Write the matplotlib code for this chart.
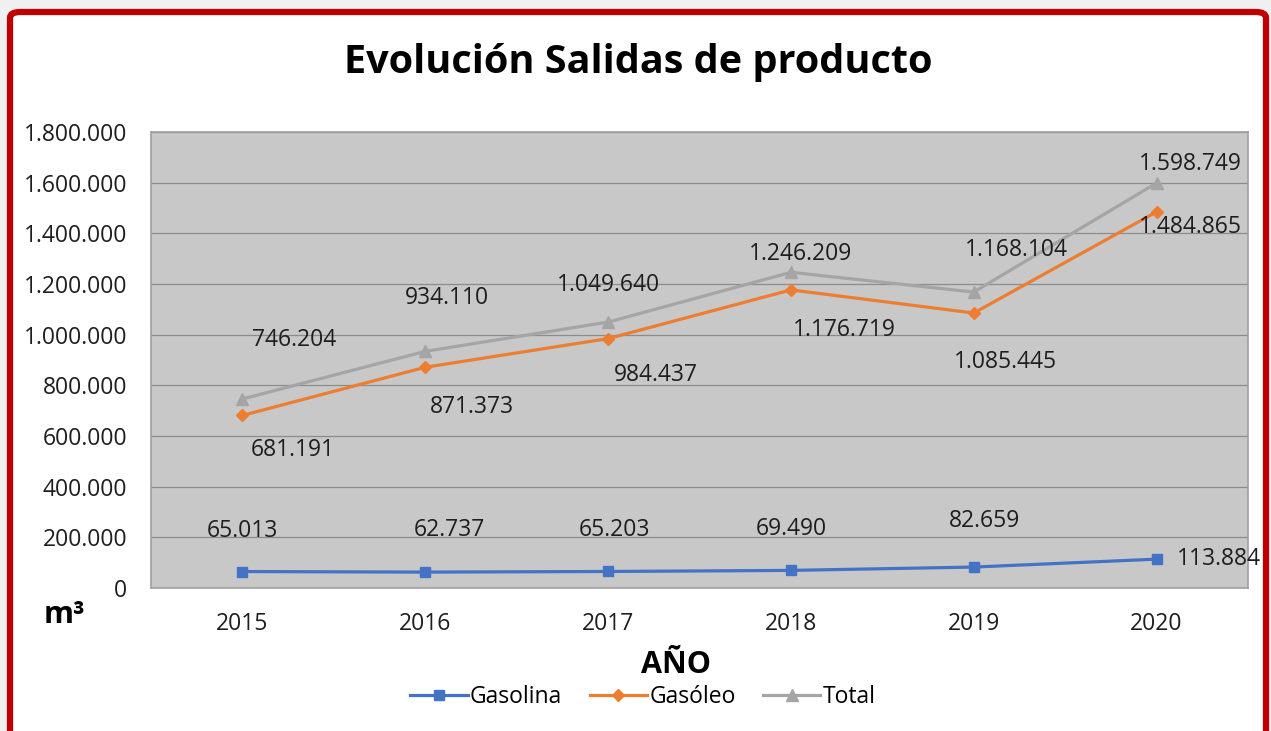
import numpy as np
import matplotlib.pyplot as plt
from matplotlib.patches import FancyBboxPatch
from matplotlib.ticker import FuncFormatter

years = ['2015', '2016', '2017', '2018', '2019', '2020']
gasolina = [65013, 62737, 65203, 69490, 82659, 113884]
gasoleo = [681191, 871373, 984437, 1176719, 1085445, 1484865]
total = [746204, 934110, 1049640, 1246209, 1168104, 1598749]

# label offsets (pixels) copied by eye from the reference
off_gasolina = [(0, 41), (24, 42), (6, 41), (0, 41), (11, 46), (None, None)]
off_gasoleo = [(50, -35), (47, -40), (48, -36), (53, -40), (32, -49), (34, -15)]
off_total = [(52, 59), (22, 53), (0, 37), (10, 18), (43, 42), (34, 19)]

plt.rcParams['font.family'] = ['Open Sans', 'DejaVu Sans']


def fmt(v, pos=None):
    return f'{int(v):,}'.replace(',', '.')


fig = plt.figure(figsize=(12.71, 7.31), dpi=100)
fig.patch.set_facecolor('#f0f0f0')
frame = FancyBboxPatch((10 / 1271, -0.05), 1256 / 1271, 1 - 12 / 731 + 0.05,
                       boxstyle='round,pad=0,rounding_size=0.008',
                       transform=fig.transFigure, facecolor='white',
                       edgecolor='#c00000', linewidth=4.5, zorder=-1)
fig.patches.append(frame)

ax = fig.add_axes([151 / 1271, 1 - 588 / 731, 1097 / 1271, 456 / 731])
ax.set_facecolor('#c8c8c8')
x = np.arange(len(years))
ax.set_xlim(-0.5, len(years) - 0.5)
ax.set_ylim(0, 1800000)
ax.set_yticks(np.arange(0, 1800001, 200000))
ax.yaxis.set_major_formatter(FuncFormatter(fmt))
ax.set_xticks(x)
ax.set_xticklabels(years)
ax.grid(axis='y', color='#8c8c8c', linewidth=0.9)
ax.set_axisbelow(True)
for s in ax.spines.values():
    s.set_color('#a0a0a0')
    s.set_linewidth(1.2)
ax.tick_params(length=0, labelsize=16.5, colors='#1e1e1e')
ax.tick_params(axis='y', pad=17)
ax.tick_params(axis='x', pad=17)

l1, = ax.plot(x, gasolina, color='#4472c4', marker='s', markersize=7.5, lw=2.3, label='Gasolina')
l2, = ax.plot(x, gasoleo, color='#ed7d31', marker='D', markersize=6.5, lw=2.3, label='Gasóleo')
l3, = ax.plot(x, total, color='#a5a5a5', marker='^', markersize=8.5, lw=2.3, label='Total')

px = 72 / 100
for series, offs in [(gasolina, off_gasolina), (gasoleo, off_gasoleo), (total, off_total)]:
    for i, v in enumerate(series):
        dx, dy = offs[i]
        if dx is None:
            ax.annotate(fmt(v), (x[i], v), xytext=(20 * px, 0), textcoords='offset points',
                        ha='left', va='center', fontsize=16.5, color='#1e1e1e',
                        annotation_clip=False)
        else:
            ax.annotate(fmt(v), (x[i], v), xytext=(dx * px, dy * px), textcoords='offset points',
                        ha='center', va='center', fontsize=16.5, color='#1e1e1e',
                        annotation_clip=False)

fig.text(638 / 1271, 1 - 63 / 731, 'Evolución Salidas de producto', ha='center', va='center',
         fontsize=28.5, fontweight='bold', color='black')
fig.text(64 / 1271, 1 - 615 / 731, 'm³', ha='center', va='center', fontsize=22,
         fontweight='bold', color='black')
fig.text(676 / 1271, 1 - 665 / 731, 'AÑO', ha='center', va='center', fontsize=22,
         fontweight='bold', color='black')

fig.legend(handles=[l1, l2, l3], loc='center', bbox_to_anchor=(643 / 1271, 1 - 697 / 731),
           ncol=3, frameon=False, fontsize=16.5, handlelength=2.5, columnspacing=1.2,
           handletextpad=0.1)

fig.savefig('out.png', dpi=100, facecolor=fig.get_facecolor())
